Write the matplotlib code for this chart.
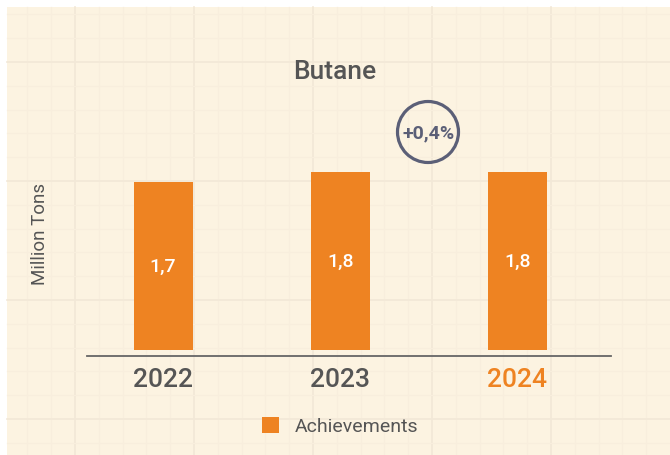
import numpy as np
import matplotlib
matplotlib.use("Agg")
import matplotlib.pyplot as plt
from matplotlib.patches import Rectangle, Circle

plt.rcParams['font.family'] = ['Roboto', 'DejaVu Sans']

years = ["2022", "2023", "2024"]
achievements = [1.7, 1.8, 1.8]
growth_label = "+0,4%"

orange = "#ee8322"
grey = "#555555"
ring = "#5b5f77"
cream = "#fcf3e1"

W, H = 670, 456
fig = plt.figure(figsize=(W / 100, H / 100), dpi=100, facecolor="white")

# background panel with a faint graph-paper grid, in pixel units
bg = fig.add_axes([0, 0, 1, 1], zorder=0)
bg.set_xlim(0, W)
bg.set_ylim(H, 0)
bg.axis("off")
bg.add_patch(Rectangle((7, 8), W - 7, H - 8, facecolor=cream, edgecolor="none"))
step = 119 / 5
for x in np.arange(75 - 119, W, step):
    if x > 7:
        major = abs(((x - 75) / 119) - round((x - 75) / 119)) < 1e-6
        bg.plot([x, x], [8, H], color="#f2e8d7" if major else "#f8eedd",
                lw=1.2 if major else 0.9, zorder=1)
for y in np.arange(63 - 119, H, step):
    if y > 8:
        major = abs(((y - 63) / 119) - round((y - 63) / 119)) < 1e-6
        bg.plot([7, W], [y, y], color="#f2e8d7" if major else "#f8eedd",
                lw=1.2 if major else 0.9, zorder=1)

# growth badge
bg.add_patch(Circle((428, 133), 30.5, facecolor="none", edgecolor=ring, lw=2.3, zorder=3))
bg.text(429, 133, growth_label, ha="center", va="center", fontsize=14,
        fontweight="bold", color=ring, zorder=4)

# main bar chart
ax = fig.add_axes([87 / W, 99 / H, 524 / W, 297 / H], zorder=1)
ax.patch.set_alpha(0)
x = np.arange(len(years))
bars = ax.bar(x, achievements, width=0.333, color=orange, label="Achievements")
ax.set_xlim(-0.43, 2.53)
ax.set_ylim(-0.06, -0.06 + 297 / 98.8)

for xi, v in zip(x, achievements):
    ax.text(xi, v / 2, f"{v:.1f}".replace(".", ","), ha="center", va="center",
            color="white", fontsize=14, fontweight="medium")

ax.set_xticks(x)
ax.set_xticklabels(years, fontsize=19, color=grey, fontweight="medium")
ax.get_xticklabels()[-1].set_color(orange)
ax.tick_params(axis="x", length=0, pad=8)
ax.set_yticks([])
for s in ["top", "right", "left"]:
    ax.spines[s].set_visible(False)
ax.spines["bottom"].set_color("#666666")
ax.spines["bottom"].set_linewidth(1.3)

fig.text(40 / W, 1 - 234 / H, "Million Tons", rotation=90, ha="center", va="center",
         fontsize=13.5, color=grey)
fig.text(335 / W, 1 - 72 / H, "Butane", ha="center", va="center",
         fontsize=19, color=grey, fontweight="medium")

fig.legend(handles=[bars], labels=["Achievements"], loc="center",
           bbox_to_anchor=(340 / W, 1 - 427 / H), frameon=False, fontsize=14,
           handlelength=0.9, handleheight=0.9, handletextpad=0.8, labelcolor=grey)

fig.savefig("out.png", dpi=100, facecolor=fig.get_facecolor())
